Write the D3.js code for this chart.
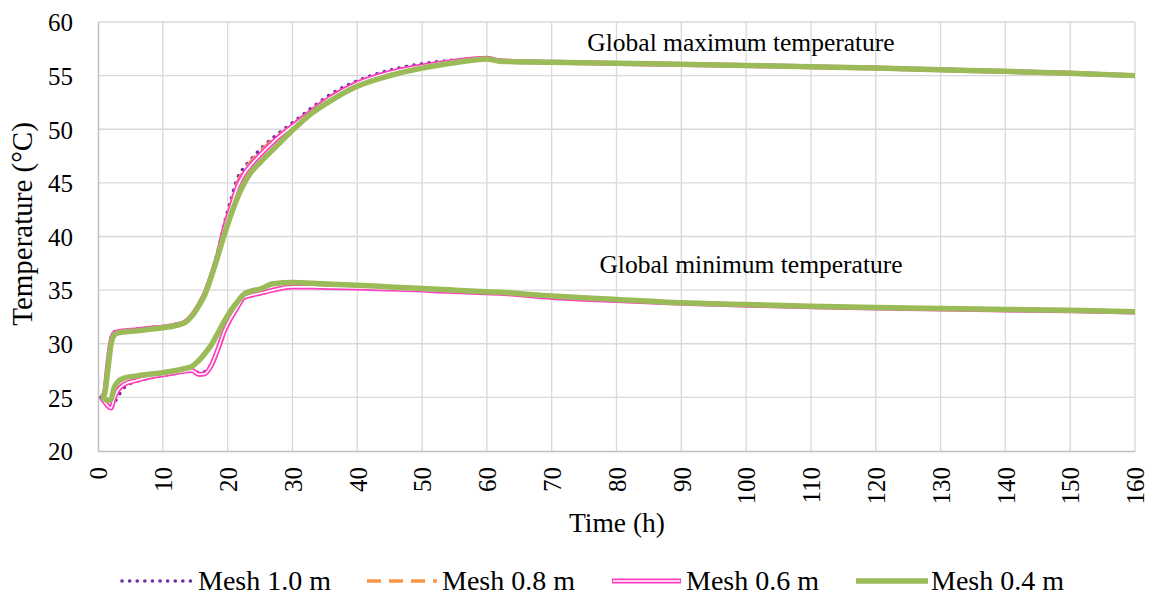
<!DOCTYPE html>
<html>
<head>
<meta charset="utf-8">
<script src="https://cdn.jsdelivr.net/npm/d3@7"></script>
<style>
  html, body { margin: 0; padding: 0; background: #fff; }
  svg { display: block; }
  text { font-family: "Liberation Serif", "Times New Roman", serif; fill: #000; }
</style>
</head>
<body>
<svg id="chart" width="1156" height="598"></svg>
<script>
// ---- data ----
const time = [0.5, 1.0, 1.5, 2.0, 2.5, 3, 4, 6, 8, 10, 12, 13.5, 14.5, 15.5, 16.5, 17.5, 18.5, 19.5, 20.5, 21.5, 22.5, 23.5, 25, 27, 30, 33, 36, 40, 45, 50, 55, 60, 62, 70, 80, 90, 100, 110, 120, 130, 140, 150, 160];

const maxMesh10 = [25.0, 25.5, 28.5, 30.5, 31.1, 31.2, 31.25, 31.35, 31.5, 31.6, 31.8, 32.1, 32.7, 33.6, 34.8, 36.5, 38.6, 41.2, 43.4, 45.4, 46.4, 47.1, 48.1, 49.2, 50.6, 52.0, 53.3, 54.5, 55.5, 56.1, 56.45, 56.6, 56.35, 56.22, 56.12, 56.02, 55.92, 55.8, 55.68, 55.52, 55.37, 55.2, 55.0];
const maxMesh08 = [25.0, 25.4, 28.2, 30.3, 31.0, 31.15, 31.2, 31.3, 31.45, 31.55, 31.75, 32.05, 32.65, 33.55, 34.75, 36.4, 38.4, 41.0, 43.0, 45.0, 46.1, 46.9, 47.9, 49.0, 50.4, 51.8, 53.1, 54.3, 55.3, 55.9, 56.35, 56.6, 56.35, 56.24, 56.14, 56.04, 55.94, 55.82, 55.69, 55.53, 55.38, 55.21, 55.0];
const maxMesh06 = [25.0, 25.4, 28.0, 30.2, 31.0, 31.1, 31.2, 31.3, 31.45, 31.55, 31.75, 32.05, 32.65, 33.55, 34.7, 36.35, 38.3, 40.8, 42.7, 44.6, 45.8, 46.6, 47.6, 48.8, 50.3, 51.7, 53.0, 54.3, 55.3, 55.9, 56.35, 56.62, 56.38, 56.25, 56.14, 56.04, 55.94, 55.82, 55.7, 55.54, 55.39, 55.21, 55.0];
const maxMesh04 = [25.0, 25.3, 27.5, 29.9, 30.8, 31.0, 31.1, 31.2, 31.35, 31.5, 31.7, 32.0, 32.6, 33.5, 34.6, 36.3, 38.2, 40.2, 42.0, 43.6, 44.9, 45.9, 46.9, 48.1, 49.9, 51.5, 52.7, 54.0, 55.0, 55.7, 56.2, 56.55, 56.35, 56.25, 56.15, 56.05, 55.95, 55.83, 55.71, 55.55, 55.4, 55.22, 55.0];

const minMesh10 = [25.0, 24.6, 24.2, 24.1, 24.5, 25.0, 25.9, 26.5, 26.85, 27.05, 27.25, 27.4, 27.5, 27.3, 27.4, 28.1, 29.6, 31.3, 32.5, 33.5, 34.3, 34.5, 34.65, 35.0, 35.3, 35.3, 35.25, 35.2, 35.1, 35.0, 34.85, 34.75, 34.7, 34.3, 34.02, 33.78, 33.6, 33.45, 33.33, 33.24, 33.15, 33.07, 32.95];
const minMesh08 = [25.0, 24.6, 24.2, 24.05, 24.8, 25.5, 26.1, 26.55, 26.9, 27.1, 27.3, 27.45, 27.5, 27.1, 27.2, 27.9, 29.3, 31.0, 32.3, 33.4, 34.3, 34.5, 34.7, 35.05, 35.35, 35.32, 35.27, 35.22, 35.12, 35.02, 34.87, 34.76, 34.71, 34.32, 34.04, 33.79, 33.61, 33.46, 33.34, 33.25, 33.16, 33.08, 32.96];
const minMesh06 = [25.0, 24.6, 24.2, 24.0, 24.9, 25.6, 26.2, 26.6, 26.9, 27.1, 27.3, 27.45, 27.5, 27.15, 27.2, 28.0, 29.5, 31.2, 32.4, 33.4, 34.3, 34.5, 34.7, 35.0, 35.3, 35.3, 35.25, 35.2, 35.1, 35.0, 34.86, 34.75, 34.7, 34.31, 34.03, 33.78, 33.6, 33.45, 33.33, 33.24, 33.15, 33.07, 32.95];
const minMesh04 = [25.0, 24.9, 24.7, 24.8, 25.9, 26.4, 26.8, 27.0, 27.15, 27.3, 27.5, 27.7, 27.9, 28.4, 29.1, 29.9, 31.0, 32.1, 33.1, 33.9, 34.6, 34.9, 35.1, 35.6, 35.7, 35.65, 35.55, 35.45, 35.3, 35.15, 35.0, 34.85, 34.8, 34.45, 34.13, 33.82, 33.66, 33.5, 33.38, 33.29, 33.2, 33.12, 32.98];

const xTicks = [0, 10, 20, 30, 40, 50, 60, 70, 80, 90, 100, 110, 120, 130, 140, 150, 160];
const yTicks = [20, 25, 30, 35, 40, 45, 50, 55, 60];
const seriesNames = ["Mesh 1.0 m", "Mesh 0.8 m", "Mesh 0.6 m", "Mesh 0.4 m"];
const xTitle = "Time (h)";
const yTitle = "Temperature (°C)";
const annotations = ["Global maximum temperature", "Global minimum temperature"];

// ---- layout ----
const svg = d3.select("#chart");
const L = 98, R = 1135, T = 22, B = 451;
const x = d3.scaleLinear().domain([0, 160]).range([L, R]);
const y = d3.scaleLinear().domain([20, 60]).range([B, T]);

// gridlines
const grid = svg.append("g");
grid.selectAll(".gx").data(xTicks.slice(1)).enter().append("line")
  .attr("x1", d => x(d)).attr("x2", d => x(d)).attr("y1", T).attr("y2", B)
  .attr("stroke", "#d9d9d9").attr("stroke-width", 1.3);
grid.selectAll(".gy").data(yTicks.slice(1)).enter().append("line")
  .attr("x1", L).attr("x2", R).attr("y1", d => y(d)).attr("y2", d => y(d))
  .attr("stroke", "#d9d9d9").attr("stroke-width", 1.3);

// axes
const xAxis = svg.append("g").attr("transform", `translate(0,${B})`)
  .call(d3.axisBottom(x).tickValues(xTicks).tickSize(0).tickFormat(d3.format("d")));
xAxis.attr("font-family", null);
xAxis.select(".domain").attr("stroke", "#bfbfbf").attr("stroke-width", 1.5);
xAxis.selectAll("text")
  .attr("font-size", 25)
  .attr("transform", "rotate(-90)")
  .attr("text-anchor", "end").attr("x", -16).attr("y", 0).attr("dy", "0.35em");

const yAxis = svg.append("g").attr("transform", `translate(${L},0)`)
  .call(d3.axisLeft(y).tickValues(yTicks).tickSize(0).tickFormat(d3.format("d")));
yAxis.attr("font-family", null);
yAxis.select(".domain").attr("stroke", "#bfbfbf").attr("stroke-width", 1.5);
yAxis.selectAll("text")
  .attr("font-size", 25)
  .attr("x", -25).attr("dy", "0.35em");

// titles
svg.append("text").attr("x", 617).attr("y", 532).attr("text-anchor", "middle")
  .attr("font-size", 27.5).text(xTitle);
svg.append("text").attr("transform", "translate(32,224) rotate(-90)")
  .attr("text-anchor", "middle").attr("font-size", 29).text(yTitle);

// annotations
svg.append("text").attr("x", 741).attr("y", 51).attr("text-anchor", "middle")
  .attr("font-size", 25.5).text(annotations[0]);
svg.append("text").attr("x", 751).attr("y", 273).attr("text-anchor", "middle")
  .attr("font-size", 25.5).text(annotations[1]);

// series
const styles = [
  { color: "#7030a0", width: 3.6, dash: "0.1 7.5", cap: "round" },
  { color: "#f79646", width: 3.6, dash: "14 8", cap: "butt" },
  { color: "#ff3fc0", width: 5, dash: null, cap: "butt", dbl: true },
  { color: "#9bbb59", width: 5.5, dash: null, cap: "butt" }
];
const maxSeries = [maxMesh10, maxMesh08, maxMesh06, maxMesh04];
const minSeries = [minMesh10, minMesh08, minMesh06, minMesh04];

const line = d3.line().x(d => x(d[0])).y(d => y(d[1])).curve(d3.curveMonotoneX);
const lines = svg.append("g");
[0, 1, 2, 3].forEach(i => {
  const st = styles[i];
  [maxSeries[i], minSeries[i]].forEach(vals => {
    const pts = time.map((t, k) => [t, vals[k]]);
    const p = lines.append("path").datum(pts).attr("d", line)
      .attr("fill", "none").attr("stroke", st.color).attr("stroke-width", st.width)
      .attr("stroke-linecap", st.cap).attr("stroke-linejoin", "round");
    if (st.dash) p.attr("stroke-dasharray", st.dash);
    if (st.dbl) {
      lines.append("path").datum(pts).attr("d", line)
        .attr("fill", "none").attr("stroke", "#fff").attr("stroke-width", 1.6)
        .attr("stroke-linejoin", "round");
    }
  });
});

// legend
const legendPos = [
  { x1: 122, x2: 194, tx: 198 },
  { x1: 367, x2: 437, tx: 442 },
  { x1: 612, x2: 681, tx: 686 },
  { x1: 856, x2: 928, tx: 931 }
];
const ly = 581;
const lg = svg.append("g");
seriesNames.forEach((name, i) => {
  const st = styles[i], pos = legendPos[i];
  const l = lg.append("line").attr("x1", pos.x1).attr("x2", pos.x2).attr("y1", ly).attr("y2", ly)
    .attr("stroke", st.color).attr("stroke-width", st.width).attr("stroke-linecap", st.cap);
  if (st.dash) l.attr("stroke-dasharray", st.dash);
  if (st.dbl) {
    lg.append("line").attr("x1", pos.x1 + 1).attr("x2", pos.x2 - 1).attr("y1", ly).attr("y2", ly)
      .attr("stroke", "#fff").attr("stroke-width", 1.6);
  }
  lg.append("text").attr("x", pos.tx).attr("y", ly + 9).attr("font-size", 28).text(name);
});
</script>
</body>
</html>
